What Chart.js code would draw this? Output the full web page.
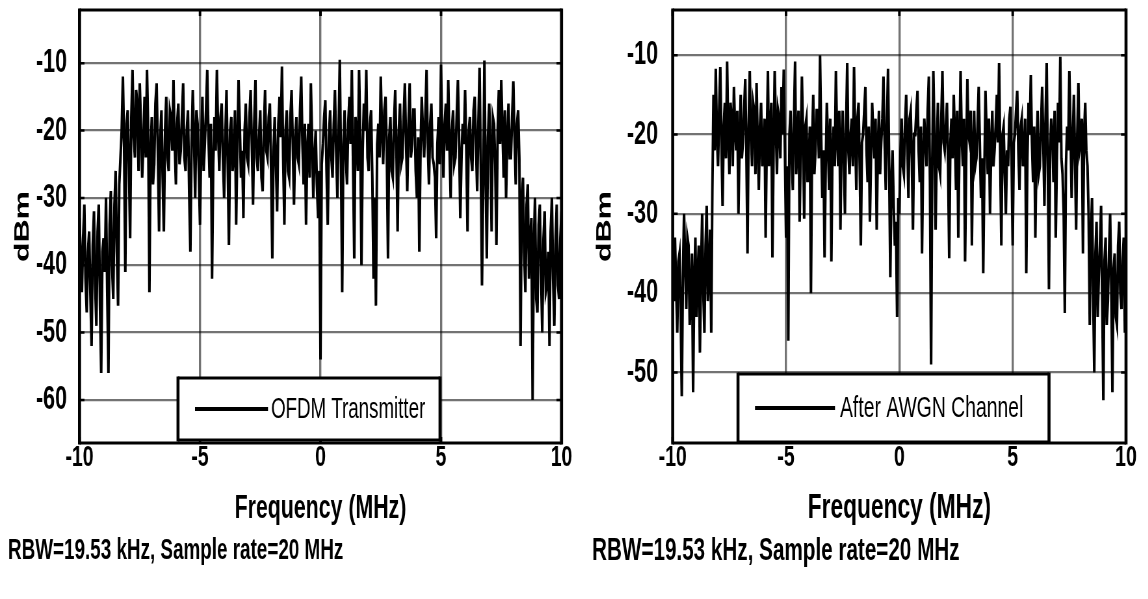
<!DOCTYPE html>
<html>
<head>
<meta charset="utf-8">
<script src="https://cdn.jsdelivr.net/npm/chart.js@4.4.1/dist/chart.umd.min.js"></script>
<style>
body{margin:0;background:#fff;width:1148px;height:599px;overflow:hidden;position:relative}
.panel{position:absolute;top:0;height:599px}
.inner{height:599px;transform:scaleX(0.65);transform-origin:0 0}
</style>
</head>
<body>
<div class="panel" style="left:0"><div class="inner" style="width:889px"><canvas id="txChart"></canvas></div></div>
<div class="panel" style="left:580px"><div class="inner" style="width:874px"><canvas id="awgnChart"></canvas></div></div>
<script>
// spectrum bins run from freqStart to freqStop (MHz), one value per bin
const freqStart=-10, freqStop=10;
const xTicks=[-10,-5,0,5,10];
const txTicks=[-60,-50,-40,-30,-20,-10];
const awgnTicks=[-50,-40,-30,-20,-10];
const xTitle='Frequency (MHz)';
const yTitle='dBm';
const caption='RBW=19.53 kHz, Sample rate=20 MHz';
const txLabel='OFDM Transmitter';
const awgnLabel='After AWGN Channel';

// dBm
const txLevels=[
-33,-39,-44,-36,-31,-42,-47,-38,-35,-44,-52,-37,-32,-43,-49,-35,-31,-46,-56,-38,
-36,-41,-30,-44,-56,-34,-29,-40,-45,-31,-26,-38,-46,-28,-24,-20,-12,-22,-41,-19,
-17,-25,-36,-18,-11,-21,-24,-14,-16,-26,-13,-19,-27,-22,-15,-24,-11,-20,-44,-23,
-18,-28,-25,-16,-13,-23,-35,-21,-17,-27,-35,-20,-15,-24,-26,-17,-18,-23,-12.5,-22,
-28,-19,-16,-25,-23,-18,-13,-24,-26,-20,-17,-29,-38,-22,-14,-21,-30,-17,-19,-26,
-34,-22,-15,-26,-22,-17,-11,-21,-27,-19,-42,-25,-18,-23,-11,-20,-26,-18,-16,-24,
-30,-21,-14,-25,-37,-20,-18,-26,-24,-17,-34,-22,-12.5,-19,-27,-23,-33,-20,-16,-24,
-25,-18,-14,-22,-31,-19,-12.5,-24,-26,-21,-17,-27,-29,-20,-14,-23,-24,-18,-16,-26,
-39,-23,-18,-25,-32,-19,-15,-21,-10.5,-24,-34,-20,-17,-26,-27,-18,-14,-22,-31,-21,
-18,-24,-25,-17,-12,-22,-28,-19,-34,-23,-19,-27,-13,-21,-30,-24,-20,-28,-33,-26,
-54,-25,-22,-18,-15.5,-26,-34,-21,-17,-24,-27,-19,-14,-23,-30,-20,-9.5,-25,-44,-22,
-17,-24,-28,-19,-15,-22,-11,-25,-39,-18,-20,-26,-11,-21,-40,-23,-16,-20,-11,-24,
-26,-19,-17,-27,-42,-30,-46,-22,-19,-24,-12,-20,-25,-17,-15,-23,-39,-21,-18,-26,
-27,-19,-14,-23,-35,-20,-16,-25,-24,-18,-13,-22,-29,-19,-13,-24,-22,-17,-17,-26,
-30,-21,-38,-23,-15,-20,-24,-18,-11,-22,-28,-19,-16,-24,-25,-27,-36,-22,-18,-25,
-10.2,-21,-27,-19,-16,-23,-12.5,-22,-30,-20,-17,-25,-24,-18,-12.5,-21,-33,-24,-19,-22,
-14,-23,-35,-20,-18,-24,-26,-17,-15,-22,-29,-19,-10.7,-25,-43,-28,-9.6,-26,-39,-21,
-16,-23,-35,-18,-19,-25,-37,-20,-14,-22,-12.5,-20,-27,-17,-30,-21,-16,-24,-24,-18,
-12.7,-21,-28,-19,-17,-24,-52,-30,-27,-38,-44,-31,-28,-42,-36,-33,-60,-37,-30,-45,
-47,-34,-31,-41,-50,-36,-32,-44,-43,-38,-52,-35,-30,-42,-49,-37,-31,-43,-45,-36,
-32
];

// dBm
const awgnLevels=[
-37,-41,-33,-39,-45,-36,-35,-42,-53,-38,-30,-36,-42,-33,-34,-44,-40,-35,-52.5,-39,
-33,-43,-38,-34,-47.5,-37,-30,-40,-45,-34,-29,-41,-38,-32,-45,-27,-15,-22,-11.7,-20,
-24,-17,-11.5,-21,-29,-19,-16,-23,-10.8,-20,-25,-16,-18,-24,-14,-19,-22,-17,-30,-21,
-15,-23,-21,-17,-13,-22,-35,-19,-12,-20,-24,-16,-17,-25,-13.5,-21,-27,-19,-16,-24,
-22,-18,-33,-21,-12,-24,-20,-16,-35.5,-22,-12,-19,-25,-17,-18,-23,-14,-20,-11.8,-22,
-33,-24,-46,-20,-17,-23,-27,-18,-10.8,-25,-21,-17,-31,-22,-12.7,-20,-30.6,-19,-18,-26,
-24,-19,-40,-21,-15,-25,-22,-17,-17,-23,-10,-20,-28,-22,-35.5,-24,-16,-21,-27,-18,
-36,-22,-19,-24,-12,-20,-24,-17,-32,-21,-17,-23,-30,-19,-11,-22,-25,-20,-18,-24,
-11.5,-20,-27,-18,-16,-24,-34,-21,-20,-17,-14,-22,-26,-19,-31,-23,-16,-20,-23,-18,
-32,-22,-17,-25,-21,-18,-12.7,-21,-27,-19,-11.7,-24,-38,-26,-22,-29,-34,-31,-43,-28,
-30,-22,-18,-24,-25,-19,-15,-21,-28,-18,-17,-23,-32,-20,-20,-17,-14.5,-22,-26,-19,
-35,-23,-18,-21,-24,-17,-12.7,-26,-49,-24,-12,-20,-32,-22,-16,-24,-25,-18,-12,-21,
-22,-19,-16,-24,-35.6,-21,-18,-23,-15,-20,-27,-17,-33,-22,-12,-20,-24,-18,-36,-23,
-13,-20,-21,-17,-34,-22,-17,-24,-23,-19,-14,-21,-28,-23,-37.5,-25,-14.5,-20,-25,-18,
-30,-22,-17,-24,-22,-19,-15,-21,-11,-23,-34,-20,-19,-25,-30,-22,-24,-18,-16.5,-23,
-34,-21,-20,-17,-14.5,-22,-27,-19,-18,-24,-22,-18,-37.5,-23,-16,-20,-12.5,-21,-26,-19,
-33,-22,-17,-25,-24,-19,-14,-21,-29,-18,-11,-24,-39.5,-22,-18,-20,-26,-17,-33,-23,
-16,-21,-10.2,-23,-25,-30,-42.5,-24,-19,-22,-12,-19,-28,-21,-15,-23,-32,-20,-13.5,-22,
-21,-18,-35,-20,-16,-22,-24,-30,-44,-33,-28,-40,-50,-35,-31,-43,-38,-34,-29,-41,
-53.5,-36,-33,-44,-41,-35,-30,-39,-52.5,-37,-35,-43,-44,-34,-31,-40,-42,-36,-33,-45,
-39
];

// the original figure is squeezed sideways; pages are laid out wide and scaled by sx
const sx=0.65;
const px=v=>v/sx;
const sans="'Liberation Sans',Arial,sans-serif";
const gridCol='rgba(0,0,0,0.55)';

function toPoints(levels){
  const step=(freqStop-freqStart)/(levels.length-1);
  return levels.map((v,i)=>({x:freqStart+i*step,y:v}));
}

function boxLines(ctx,x,y,w,h){
  ctx.lineWidth=3;
  ctx.beginPath();
  ctx.moveTo(x,y);ctx.lineTo(x+w,y);
  ctx.moveTo(x,y+h);ctx.lineTo(x+w,y+h);
  ctx.stroke();
  ctx.lineWidth=px(3);
  ctx.beginPath();
  ctx.moveTo(x,y-1.5);ctx.lineTo(x,y+h+1.5);
  ctx.moveTo(x+w,y-1.5);ctx.lineTo(x+w,y+h+1.5);
  ctx.stroke();
}

// frame, inner tick marks and the boxed legend
const framePlugin={
  id:'frame',
  afterDatasetsDraw(chart,args,o){
    const {ctx,chartArea:a,scales}=chart;
    ctx.save();
    ctx.strokeStyle='#000';
    ctx.lineWidth=2.5;
    ctx.beginPath();
    scales.y.ticks.forEach(t=>{
      const y=scales.y.getPixelForValue(t.value);
      ctx.moveTo(a.left,y);ctx.lineTo(a.left+px(5),y);
      ctx.moveTo(a.right-px(5),y);ctx.lineTo(a.right,y);
    });
    ctx.stroke();
    ctx.lineWidth=px(2.5);
    ctx.beginPath();
    scales.x.ticks.forEach(t=>{
      const x=scales.x.getPixelForValue(t.value);
      ctx.moveTo(x,a.top);ctx.lineTo(x,a.top+6);
      ctx.moveTo(x,a.bottom-6);ctx.lineTo(x,a.bottom);
    });
    ctx.stroke();
    boxLines(ctx,a.left,a.top,a.right-a.left,a.bottom-a.top);
    const L=o.box;
    ctx.fillStyle='#fff';
    ctx.fillRect(L.x,L.y,L.w,L.h);
    boxLines(ctx,L.x,L.y,L.w,L.h);
    ctx.lineWidth=4;
    ctx.beginPath();
    ctx.moveTo(L.x+L.l0,L.y+L.h/2);ctx.lineTo(L.x+L.l1,L.y+L.h/2);
    ctx.stroke();
    ctx.fillStyle='#000';
    ctx.font=L.size+'px '+sans;
    ctx.textBaseline='middle';
    ctx.fillText(chart.data.datasets[0].label,L.x+L.tx,L.y+L.h/2+1);
    ctx.restore();
  }
};

function makeChart(id,label,levels,yTicks,yMin,yMax,p){
  return new Chart(document.getElementById(id),{
    type:'line',
    data:{datasets:[{label:label,data:toPoints(levels),borderColor:'#000',borderWidth:4,pointRadius:0,tension:0,borderJoinStyle:'miter'}]},
    options:{
      responsive:true,maintainAspectRatio:false,animation:false,
      layout:{padding:{left:p.padL,right:p.padR,top:10,bottom:p.padB}},
      plugins:{
        legend:{display:false},tooltip:{enabled:false},
        title:{display:true,text:caption,position:'bottom',align:'start',color:'#000',
          font:{family:sans,size:p.capSize,weight:'bold'},padding:{top:p.capTop,bottom:0}},
        frame:{box:p.box}
      },
      scales:{
        x:{type:'linear',min:freqStart,max:freqStop,
          afterBuildTicks:s=>{s.ticks=xTicks.map(v=>({value:v}));},
          afterFit:s=>{s.height=86;s.paddingLeft=0;s.paddingRight=0;},
          grid:{color:gridCol,lineWidth:px(2.2),drawTicks:false},
          border:{display:false},
          ticks:{color:'#000',padding:0,maxRotation:0,font:{family:sans,size:30,weight:'bold',lineHeight:1}},
          title:{display:true,text:xTitle,color:'#000',font:{family:sans,size:p.titleSize,weight:'bold'},padding:{top:0,bottom:0}}
        },
        y:{type:'linear',min:yMin,max:yMax,
          afterBuildTicks:s=>{s.ticks=yTicks.map(v=>({value:v}));},
          afterFit:s=>{s.width=p.yW;s.paddingTop=0;s.paddingBottom=0;},
          grid:{color:gridCol,lineWidth:2.2,drawTicks:false},
          border:{display:false},
          ticks:{color:'#000',padding:p.yPad,font:{family:sans,size:33,weight:'bold'}},
          title:{display:true,text:yTitle,color:'#000',font:{family:sans,size:32,weight:'bold'},padding:{top:p.yTitlePad,bottom:0}}
        }
      }
    },
    plugins:[framePlugin]
  });
}

makeChart('txChart',txLabel,txLevels,txTicks,-66.4,-2.1,{
  padL:px(8),padR:889-px(561.5),padB:30.6,yW:px(79.5)-px(8),yPad:px(12.5),yTitlePad:3.9,
  capSize:29,capTop:4.6,titleSize:32.8,
  box:{x:px(178),y:378,w:px(262),h:62,l0:px(17),l1:px(90),tx:px(93),size:28.8}
});
makeChart('awgnChart',awgnLabel,awgnLevels,awgnTicks,-58.9,-4.3,{
  padL:px(12),padR:874-px(546),padB:28.9,yW:px(92.7)-px(12),yPad:px(14.7),yTitlePad:0.8,
  capSize:31.8,capTop:2.9,titleSize:35,
  box:{x:px(158),y:374,w:px(311),h:68,l0:px(17),l1:px(97),tx:px(102),size:29.8}
});
</script>
</body>
</html>
